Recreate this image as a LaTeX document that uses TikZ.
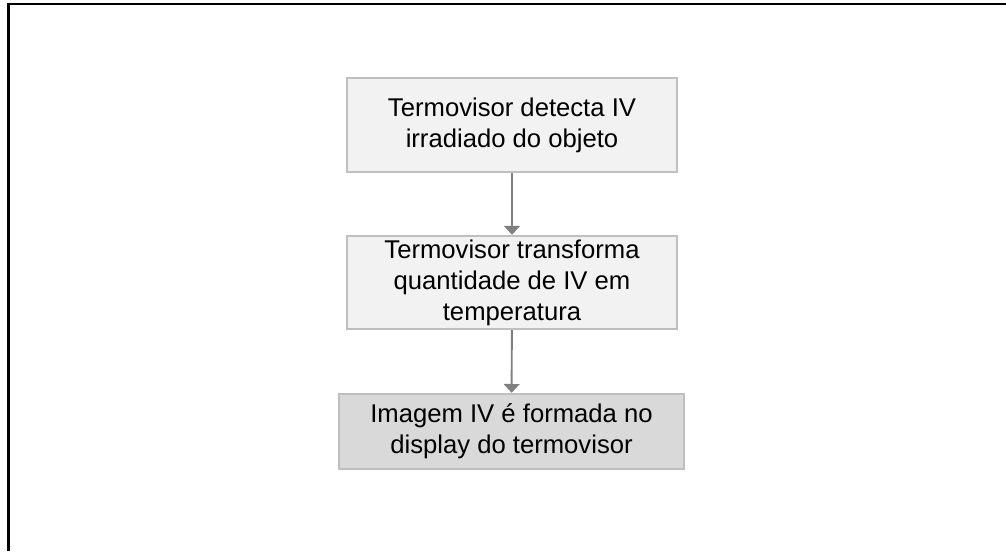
\documentclass[tikz,border=0pt]{standalone}
\usepackage{fontspec}
\setmainfont{Liberation Sans}
\usetikzlibrary{arrows.meta}
\definecolor{boxgray}{HTML}{F2F2F2}
\definecolor{darkbox}{HTML}{D9D9D9}
\definecolor{edgegray}{HTML}{BFBFBF}
\definecolor{arrowgray}{HTML}{808080}

\begin{document}
\begin{tikzpicture}[x=0.02cm,y=-0.02cm,>={Triangle[width=9pt,length=5pt]},
  stepbox/.style={draw=edgegray,line width=1.4pt,fill=boxgray,align=center,inner sep=0pt,
    minimum width=6.6cm,font=\fontsize{14.6}{17.6}\selectfont},
  flow/.style={->,draw=arrowgray,line width=1.1pt}]
\useasboundingbox (0,0) rectangle (1006,551);
\draw[line width=1.2pt] (8.5,551) -- (8.5,4.3) -- (1006,4.3);
\node[stepbox,minimum height=1.88cm] (detect) at (512,125){Termovisor detecta IV\\irradiado do objeto};
\node[stepbox,minimum height=1.86cm] (transf) at (512,282.5){Termovisor transforma\\quantidade de IV em\\temperatura};
\node[stepbox,fill=darkbox,minimum width=6.9cm,minimum height=1.5cm] (image) at (511.5,431.5){Imagem IV é formada no\\display do termovisor};
\draw[flow] (detect) -- (transf); \draw[flow] (transf) -- (image);
\end{tikzpicture}
\end{document}
